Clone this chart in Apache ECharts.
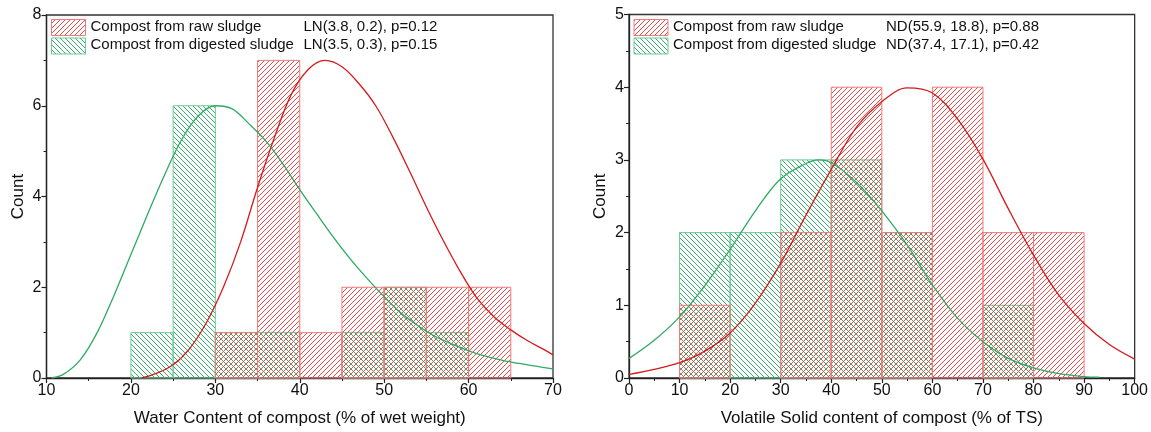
<!DOCTYPE html>
<html>
<head>
<meta charset="utf-8">
<script src="https://cdn.jsdelivr.net/npm/echarts@6/dist/echarts.min.js"></script>
<style>
  html, body { margin: 0; padding: 0; background: #fff; }
  #chart { width: 1151px; height: 432px; }
</style>
</head>
<body>
<div id="chart"></div>
<script>
// ---- Water content histogram (bins of 5 %) ----
const wcBinStart = [20, 25, 30, 35, 40, 45, 50, 55, 60];
const wcBinWidth = 5;
const wcRaw      = [0, 0, 1, 7, 1, 2, 2, 2, 2];
const wcDigested = [1, 6, 1, 1, 0, 1, 2, 1, 0];

// fitted lognormal curves, [x, count]
const wcRawFit = [[21.3,0],[23,0.1],[25,0.29],[27,0.66],[29,1.24],[31,2.02],[33,3.0],[35,4.2],[37,5.3],
  [39,6.25],[41,6.8],[43,7.0],[45,6.86],[47,6.49],[49,6.0],[51,5.32],[53,4.56],[55,3.77],[57,3.03],
  [59,2.35],[61,1.76],[63,1.35],[65,1.06],[67,0.82],[69,0.62],[70,0.51]];
const wcDigFit = [[10.6,0],[12,0.08],[14,0.4],[16,1.0],[18,1.82],[20,2.72],[22,3.62],[24,4.48],[26,5.25],
  [28,5.78],[30,6.0],[32,5.93],[34,5.6],[36,5.22],[38,4.72],[40,4.15],[42,3.62],[44,3.1],[46,2.62],
  [48,2.19],[50,1.79],[52,1.43],[54,1.15],[56,0.92],[58,0.75],[60,0.6],[62,0.48],[64,0.39],[66,0.32],
  [68,0.26],[70,0.2]];

// ---- Volatile solid histogram (bins of 10 %) ----
const vsBinStart = [10, 20, 30, 40, 50, 60, 70, 80];
const vsBinWidth = 10;
const vsRaw      = [1, 0, 2, 4, 2, 4, 2, 2];
const vsDigested = [2, 2, 3, 3, 2, 0, 1, 0];

// fitted normal curves, [x, count]
const vsRawFit = [[0,0.05],[5,0.12],[10,0.21],[15,0.37],[20,0.62],[25,1.03],[30,1.58],[35,2.24],[40,2.87],
  [45,3.45],[50,3.8],[55,3.99],[60,3.92],[65,3.56],[70,3.01],[75,2.33],[80,1.69],[85,1.14],[90,0.75],
  [95,0.46],[100,0.26]];
const vsDigFit = [[0,0.27],[5,0.52],[10,0.84],[15,1.27],[20,1.77],[25,2.3],[30,2.74],[35,2.95],[37.5,3.0],
  [40,2.96],[45,2.69],[50,2.3],[55,1.83],[60,1.28],[65,0.82],[70,0.5],[75,0.27],[80,0.14],[85,0.06],
  [90,0.02],[93,0.01]];

// Legend texts
const leftLegend  = [['Compost from raw sludge', 'LN(3.8, 0.2), p=0.12'],
                     ['Compost from digested sludge', 'LN(3.5, 0.3), p=0.15']];
const rightLegend = [['Compost from raw sludge', 'ND(55.9, 18.8), p=0.88'],
                     ['Compost from digested sludge', 'ND(37.4, 17.1), p=0.42']];

const RED_HATCH = '#f04848', RED_LINE = '#d41a1a', RED_EDGE = '#f07a7a';
const GREEN_HATCH = '#36b06c', GREEN_LINE = '#2eaa64', GREEN_EDGE = '#6bc995';
const HATCH_STEP = 5;

// diagonal hatch segments clipped to a box; dir 1 -> "/", dir -1 -> "\"
function hatchLines(x0, y0, x1, y1, dir, color) {
  const out = [];
  const s = HATCH_STEP;
  if (dir > 0) {            // X + Y = c
    const cMin = Math.ceil((x0 + y0) / s), cMax = Math.floor((x1 + y1) / s);
    for (let k = cMin; k <= cMax; k++) {
      const c = k * s;
      const xa = Math.max(x0, c - y1), xb = Math.min(x1, c - y0);
      if (xb - xa > 0.2) out.push({ type: 'line', silent: true,
        shape: { x1: xa, y1: c - xa, x2: xb, y2: c - xb }, style: { stroke: color, lineWidth: 1 } });
    }
  } else {                  // X - Y = c
    const cMin = Math.ceil((x0 - y1) / s) - 1, cMax = Math.floor((x1 - y0) / s);
    for (let k = cMin; k <= cMax; k++) {
      const c = k * s + 2;
      const xa = Math.max(x0, c + y0), xb = Math.min(x1, c + y1);
      if (xb - xa > 0.2) out.push({ type: 'line', silent: true,
        shape: { x1: xa, y1: xa - c, x2: xb, y2: xb - c }, style: { stroke: color, lineWidth: 1 } });
    }
  }
  return out;
}

function bins(starts, width, counts) {
  return starts.map((s, i) => [s, s + width, counts[i]]).filter(d => d[2] > 0);
}

function histSeries(idx, data, dir, hatchColor, edge) {
  return {
    type: 'custom', xAxisIndex: idx, yAxisIndex: idx, data: data, silent: true,
    encode: { x: [0, 1], y: 2 },
    renderItem: function (params, api) {
      const p0 = api.coord([api.value(0), api.value(2)]);
      const p1 = api.coord([api.value(1), 0]);
      const children = hatchLines(p0[0], p0[1], p1[0], p1[1], dir, hatchColor);
      children.push({ type: 'rect',
        shape: { x: p0[0], y: p0[1], width: p1[0] - p0[0], height: p1[1] - p0[1] },
        style: { fill: 'none', stroke: edge, lineWidth: 1 } });
      return { type: 'group', children: children };
    }
  };
}

function fitSeries(idx, data, color) {
  return {
    type: 'line', xAxisIndex: idx, yAxisIndex: idx, data: data, smooth: 0.35,
    showSymbol: false, silent: true, lineStyle: { color: color, width: 1.3 }, z: 5
  };
}

const FONT = '"Liberation Sans", Arial, sans-serif';

function xAxis(idx, min, max, name) {
  return {
    gridIndex: idx, type: 'value', min: min, max: max, interval: 10,
    name: name, nameLocation: 'middle', nameGap: 32,
    nameTextStyle: { fontFamily: FONT, fontSize: 17, color: '#111' },
    axisLine: { show: true, onZero: false, lineStyle: { color: '#222', width: 1.3 } },
    axisTick: { show: true, length: 5, lineStyle: { color: '#222', width: 1.2 } },
    minorTick: { show: true, splitNumber: 2, length: 3, lineStyle: { color: '#222', width: 1 } },
    axisLabel: { fontFamily: FONT, fontSize: 16, color: '#111', margin: 5 },
    splitLine: { show: false }
  };
}
function yAxis(idx, max, interval, minorSplit) {
  return {
    gridIndex: idx, type: 'value', min: 0, max: max, interval: interval,
    name: 'Count', nameLocation: 'middle', nameGap: 20,
    nameTextStyle: { fontFamily: FONT, fontSize: 17, color: '#111' },
    axisLine: { show: true, lineStyle: { color: '#222', width: 1.3 } },
    axisTick: { show: true, length: 5, lineStyle: { color: '#222', width: 1.2 } },
    minorTick: { show: true, splitNumber: minorSplit, length: 3, lineStyle: { color: '#222', width: 1 } },
    axisLabel: { fontFamily: FONT, fontSize: 16, color: '#111', margin: 5 },
    splitLine: { show: false }
  };
}

function legendGraphics(x0, statX, rows) {
  const out = [];
  const looks = [[1, RED_HATCH, RED_EDGE], [-1, GREEN_HATCH, GREEN_EDGE]];
  rows.forEach((r, i) => {
    const y = 19.5 + i * 18.5;
    const children = hatchLines(x0, y, x0 + 34, y + 16, looks[i][0], looks[i][1]);
    children.push({ type: 'rect', shape: { x: x0, y: y, width: 34, height: 16 },
      style: { fill: 'none', stroke: looks[i][2], lineWidth: 1 } });
    out.push({ type: 'group', z: 100, children: children });
    out.push({ type: 'text', left: x0 + 39, top: y - 0.5, z: 100,
      style: { text: r[0], font: '15px ' + FONT, fill: '#111' } });
    out.push({ type: 'text', left: statX, top: y - 0.5, z: 100,
      style: { text: r[1], font: '15px ' + FONT, fill: '#111' } });
  });
  return out;
}

const chart = echarts.init(document.getElementById('chart'), null, { renderer: 'canvas' });
chart.setOption({
  backgroundColor: '#fff',
  animation: false,
  grid: [
    { left: 46.5, top: 15, width: 506.5, height: 365, show: true, borderColor: '#333', borderWidth: 1.3, backgroundColor: 'transparent' },
    { left: 629, top: 14.5, width: 507, height: 365.5, show: true, borderColor: '#333', borderWidth: 1.3, backgroundColor: 'transparent' }
  ],
  xAxis: [
    xAxis(0, 10, 70, 'Water Content of compost (% of wet weight)'),
    xAxis(1, 0, 100, 'Volatile Solid content of compost (% of TS)')
  ],
  yAxis: [ yAxis(0, 8, 2, 2), yAxis(1, 5, 1, 2) ],
  series: [
    histSeries(0, bins(wcBinStart, wcBinWidth, wcDigested), -1, GREEN_HATCH, GREEN_EDGE),
    histSeries(0, bins(wcBinStart, wcBinWidth, wcRaw), 1, RED_HATCH, RED_EDGE),
    fitSeries(0, wcRawFit, RED_LINE),
    fitSeries(0, wcDigFit, GREEN_LINE),
    histSeries(1, bins(vsBinStart, vsBinWidth, vsDigested), -1, GREEN_HATCH, GREEN_EDGE),
    histSeries(1, bins(vsBinStart, vsBinWidth, vsRaw), 1, RED_HATCH, RED_EDGE),
    fitSeries(1, vsRawFit, RED_LINE),
    fitSeries(1, vsDigFit, GREEN_LINE)
  ],
  graphic: legendGraphics(51.5, 303.5, leftLegend).concat(legendGraphics(634, 886, rightLegend))
});
</script>
</body>
</html>
